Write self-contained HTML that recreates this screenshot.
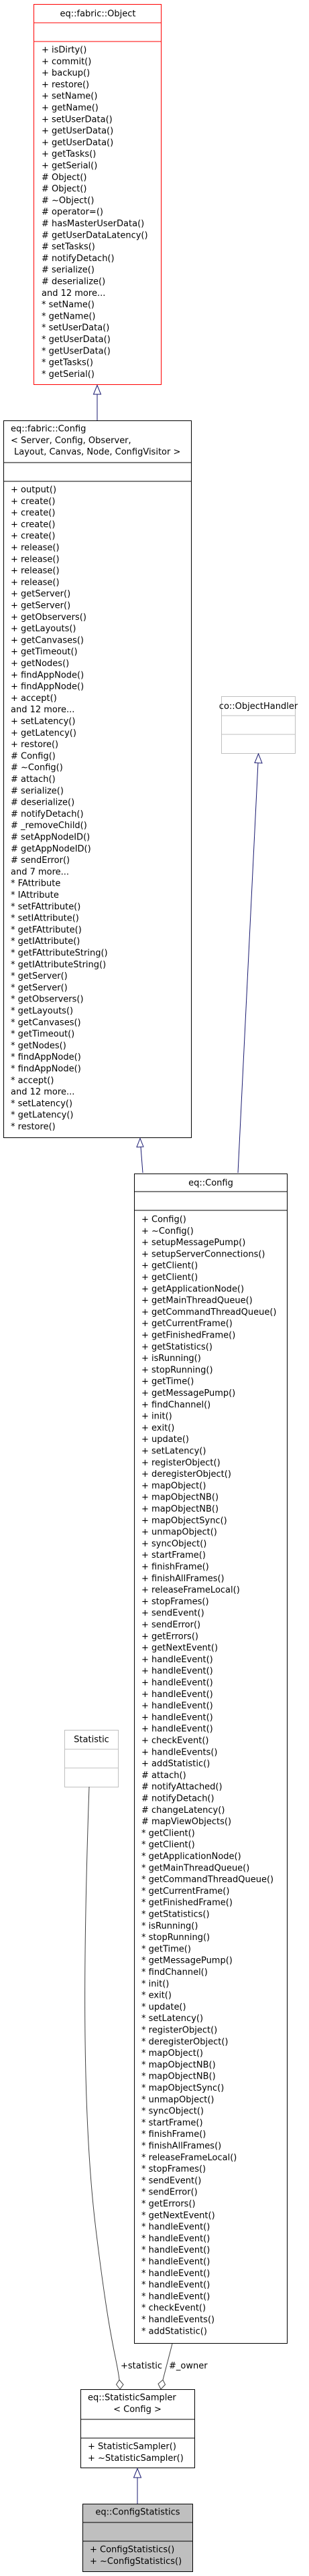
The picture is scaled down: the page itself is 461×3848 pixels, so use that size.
<!DOCTYPE html>
<html><head><meta charset="utf-8"><style>
html,body{margin:0;padding:0;background:#fff;}
svg{display:block;}
text{font-family:"DejaVu Sans","Liberation Sans",sans-serif;font-size:13px;fill:#000;}
</style></head><body>
<svg width="461" height="3848" viewBox="0 0 461 3848" xmlns="http://www.w3.org/2000/svg">
<rect width="461" height="3848" fill="#fff"/>

<!-- eq::fabric::Object -->
<rect x="50.5" y="6.5" width="190" height="568" fill="#fff" stroke="#ff0000" stroke-width="1"/>
<line x1="50.5" y1="34" x2="240.5" y2="34" stroke="#ff0000"/>
<line x1="50.5" y1="62" x2="240.5" y2="62" stroke="#ff0000"/>
<text x="146" y="24.5" text-anchor="middle">eq::fabric::Object</text>
<text y="78.5"><tspan x="62" dy="0">+ isDirty()</tspan><tspan x="62" dy="17.3">+ commit()</tspan><tspan x="62" dy="17.3">+ backup()</tspan><tspan x="62" dy="17.3">+ restore()</tspan><tspan x="62" dy="17.3">+ setName()</tspan><tspan x="62" dy="17.3">+ getName()</tspan><tspan x="62" dy="17.3">+ setUserData()</tspan><tspan x="62" dy="17.3">+ getUserData()</tspan><tspan x="62" dy="17.3">+ getUserData()</tspan><tspan x="62" dy="17.3">+ getTasks()</tspan><tspan x="62" dy="17.3">+ getSerial()</tspan><tspan x="62" dy="17.3"># Object()</tspan><tspan x="62" dy="17.3"># Object()</tspan><tspan x="62" dy="17.3"># ~Object()</tspan><tspan x="62" dy="17.3"># operator=()</tspan><tspan x="62" dy="17.3"># hasMasterUserData()</tspan><tspan x="62" dy="17.3"># getUserDataLatency()</tspan><tspan x="62" dy="17.3"># setTasks()</tspan><tspan x="62" dy="17.3"># notifyDetach()</tspan><tspan x="62" dy="17.3"># serialize()</tspan><tspan x="62" dy="17.3"># deserialize()</tspan><tspan x="62" dy="17.3">and 12 more...</tspan><tspan x="62" dy="17.3">* setName()</tspan><tspan x="62" dy="17.3">* getName()</tspan><tspan x="62" dy="17.3">* setUserData()</tspan><tspan x="62" dy="17.3">* getUserData()</tspan><tspan x="62" dy="17.3">* getUserData()</tspan><tspan x="62" dy="17.3">* getTasks()</tspan><tspan x="62" dy="17.3">* getSerial()</tspan></text>

<!-- arrow fabric::Config -> Object -->
<line x1="145" y1="628" x2="145" y2="589" stroke="#191970" stroke-width="1"/>
<polygon points="145,575.5 139.5,589 150.5,589" fill="#fff" stroke="#191970" stroke-width="1"/>

<!-- eq::fabric::Config -->
<rect x="5.5" y="628.5" width="280" height="1071" fill="#fff" stroke="#000" stroke-width="1"/>
<line x1="5.5" y1="691" x2="285.5" y2="691" stroke="#000"/>
<line x1="5.5" y1="719" x2="285.5" y2="719" stroke="#000"/>
<text y="644.5"><tspan x="16" dy="0">eq::fabric::Config</tspan><tspan x="16" dy="17.3">&lt; Server, Config, Observer,</tspan><tspan x="21" dy="17.3">Layout, Canvas, Node, ConfigVisitor &gt;</tspan></text>
<text y="735.5"><tspan x="16" dy="0">+ output()</tspan><tspan x="16" dy="17.3">+ create()</tspan><tspan x="16" dy="17.3">+ create()</tspan><tspan x="16" dy="17.3">+ create()</tspan><tspan x="16" dy="17.3">+ create()</tspan><tspan x="16" dy="17.3">+ release()</tspan><tspan x="16" dy="17.3">+ release()</tspan><tspan x="16" dy="17.3">+ release()</tspan><tspan x="16" dy="17.3">+ release()</tspan><tspan x="16" dy="17.3">+ getServer()</tspan><tspan x="16" dy="17.3">+ getServer()</tspan><tspan x="16" dy="17.3">+ getObservers()</tspan><tspan x="16" dy="17.3">+ getLayouts()</tspan><tspan x="16" dy="17.3">+ getCanvases()</tspan><tspan x="16" dy="17.3">+ getTimeout()</tspan><tspan x="16" dy="17.3">+ getNodes()</tspan><tspan x="16" dy="17.3">+ findAppNode()</tspan><tspan x="16" dy="17.3">+ findAppNode()</tspan><tspan x="16" dy="17.3">+ accept()</tspan><tspan x="16" dy="17.3">and 12 more...</tspan><tspan x="16" dy="17.3">+ setLatency()</tspan><tspan x="16" dy="17.3">+ getLatency()</tspan><tspan x="16" dy="17.3">+ restore()</tspan><tspan x="16" dy="17.3"># Config()</tspan><tspan x="16" dy="17.3"># ~Config()</tspan><tspan x="16" dy="17.3"># attach()</tspan><tspan x="16" dy="17.3"># serialize()</tspan><tspan x="16" dy="17.3"># deserialize()</tspan><tspan x="16" dy="17.3"># notifyDetach()</tspan><tspan x="16" dy="17.3"># _removeChild()</tspan><tspan x="16" dy="17.3"># setAppNodeID()</tspan><tspan x="16" dy="17.3"># getAppNodeID()</tspan><tspan x="16" dy="17.3"># sendError()</tspan><tspan x="16" dy="17.3">and 7 more...</tspan><tspan x="16" dy="17.3">* FAttribute</tspan><tspan x="16" dy="17.3">* IAttribute</tspan><tspan x="16" dy="17.3">* setFAttribute()</tspan><tspan x="16" dy="17.3">* setIAttribute()</tspan><tspan x="16" dy="17.3">* getFAttribute()</tspan><tspan x="16" dy="17.3">* getIAttribute()</tspan><tspan x="16" dy="17.3">* getFAttributeString()</tspan><tspan x="16" dy="17.3">* getIAttributeString()</tspan><tspan x="16" dy="17.3">* getServer()</tspan><tspan x="16" dy="17.3">* getServer()</tspan><tspan x="16" dy="17.3">* getObservers()</tspan><tspan x="16" dy="17.3">* getLayouts()</tspan><tspan x="16" dy="17.3">* getCanvases()</tspan><tspan x="16" dy="17.3">* getTimeout()</tspan><tspan x="16" dy="17.3">* getNodes()</tspan><tspan x="16" dy="17.3">* findAppNode()</tspan><tspan x="16" dy="17.3">* findAppNode()</tspan><tspan x="16" dy="17.3">* accept()</tspan><tspan x="16" dy="17.3">and 12 more...</tspan><tspan x="16" dy="17.3">* setLatency()</tspan><tspan x="16" dy="17.3">* getLatency()</tspan><tspan x="16" dy="17.3">* restore()</tspan></text>

<!-- co::ObjectHandler -->
<rect x="330.5" y="1040.5" width="110" height="85" fill="#fff" stroke="#bfbfbf" stroke-width="1"/>
<line x1="330.5" y1="1069" x2="440.5" y2="1069" stroke="#bfbfbf"/>
<line x1="330.5" y1="1097" x2="440.5" y2="1097" stroke="#bfbfbf"/>
<text x="385.5" y="1059" text-anchor="middle">co::ObjectHandler</text>

<!-- arrows to eq::Config -->
<line x1="385" y1="1139" x2="355" y2="1752" stroke="#191970" stroke-width="1"/>
<polygon points="385.5,1126 380,1139.5 391,1140" fill="#fff" stroke="#191970" stroke-width="1"/>
<line x1="213" y1="1752" x2="210" y2="1713" stroke="#191970" stroke-width="1"/>
<polygon points="209,1700.5 204,1713.5 214,1713" fill="#fff" stroke="#191970" stroke-width="1"/>

<!-- eq::Config -->
<rect x="200.5" y="1753.5" width="228" height="1747" fill="#fff" stroke="#000" stroke-width="1"/>
<line x1="200.5" y1="1780" x2="428.5" y2="1780" stroke="#000"/>
<line x1="200.5" y1="1808" x2="428.5" y2="1808" stroke="#000"/>
<text x="314.5" y="1771" text-anchor="middle">eq::Config</text>
<text y="1825.5"><tspan x="211" dy="0">+ Config()</tspan><tspan x="211" dy="17.3">+ ~Config()</tspan><tspan x="211" dy="17.3">+ setupMessagePump()</tspan><tspan x="211" dy="17.3">+ setupServerConnections()</tspan><tspan x="211" dy="17.3">+ getClient()</tspan><tspan x="211" dy="17.3">+ getClient()</tspan><tspan x="211" dy="17.3">+ getApplicationNode()</tspan><tspan x="211" dy="17.3">+ getMainThreadQueue()</tspan><tspan x="211" dy="17.3">+ getCommandThreadQueue()</tspan><tspan x="211" dy="17.3">+ getCurrentFrame()</tspan><tspan x="211" dy="17.3">+ getFinishedFrame()</tspan><tspan x="211" dy="17.3">+ getStatistics()</tspan><tspan x="211" dy="17.3">+ isRunning()</tspan><tspan x="211" dy="17.3">+ stopRunning()</tspan><tspan x="211" dy="17.3">+ getTime()</tspan><tspan x="211" dy="17.3">+ getMessagePump()</tspan><tspan x="211" dy="17.3">+ findChannel()</tspan><tspan x="211" dy="17.3">+ init()</tspan><tspan x="211" dy="17.3">+ exit()</tspan><tspan x="211" dy="17.3">+ update()</tspan><tspan x="211" dy="17.3">+ setLatency()</tspan><tspan x="211" dy="17.3">+ registerObject()</tspan><tspan x="211" dy="17.3">+ deregisterObject()</tspan><tspan x="211" dy="17.3">+ mapObject()</tspan><tspan x="211" dy="17.3">+ mapObjectNB()</tspan><tspan x="211" dy="17.3">+ mapObjectNB()</tspan><tspan x="211" dy="17.3">+ mapObjectSync()</tspan><tspan x="211" dy="17.3">+ unmapObject()</tspan><tspan x="211" dy="17.3">+ syncObject()</tspan><tspan x="211" dy="17.3">+ startFrame()</tspan><tspan x="211" dy="17.3">+ finishFrame()</tspan><tspan x="211" dy="17.3">+ finishAllFrames()</tspan><tspan x="211" dy="17.3">+ releaseFrameLocal()</tspan><tspan x="211" dy="17.3">+ stopFrames()</tspan><tspan x="211" dy="17.3">+ sendEvent()</tspan><tspan x="211" dy="17.3">+ sendError()</tspan><tspan x="211" dy="17.3">+ getErrors()</tspan><tspan x="211" dy="17.3">+ getNextEvent()</tspan><tspan x="211" dy="17.3">+ handleEvent()</tspan><tspan x="211" dy="17.3">+ handleEvent()</tspan><tspan x="211" dy="17.3">+ handleEvent()</tspan><tspan x="211" dy="17.3">+ handleEvent()</tspan><tspan x="211" dy="17.3">+ handleEvent()</tspan><tspan x="211" dy="17.3">+ handleEvent()</tspan><tspan x="211" dy="17.3">+ handleEvent()</tspan><tspan x="211" dy="17.3">+ checkEvent()</tspan><tspan x="211" dy="17.3">+ handleEvents()</tspan><tspan x="211" dy="17.3">+ addStatistic()</tspan><tspan x="211" dy="17.3"># attach()</tspan><tspan x="211" dy="17.3"># notifyAttached()</tspan><tspan x="211" dy="17.3"># notifyDetach()</tspan><tspan x="211" dy="17.3"># changeLatency()</tspan><tspan x="211" dy="17.3"># mapViewObjects()</tspan><tspan x="211" dy="17.3">* getClient()</tspan><tspan x="211" dy="17.3">* getClient()</tspan><tspan x="211" dy="17.3">* getApplicationNode()</tspan><tspan x="211" dy="17.3">* getMainThreadQueue()</tspan><tspan x="211" dy="17.3">* getCommandThreadQueue()</tspan><tspan x="211" dy="17.3">* getCurrentFrame()</tspan><tspan x="211" dy="17.3">* getFinishedFrame()</tspan><tspan x="211" dy="17.3">* getStatistics()</tspan><tspan x="211" dy="17.3">* isRunning()</tspan><tspan x="211" dy="17.3">* stopRunning()</tspan><tspan x="211" dy="17.3">* getTime()</tspan><tspan x="211" dy="17.3">* getMessagePump()</tspan><tspan x="211" dy="17.3">* findChannel()</tspan><tspan x="211" dy="17.3">* init()</tspan><tspan x="211" dy="17.3">* exit()</tspan><tspan x="211" dy="17.3">* update()</tspan><tspan x="211" dy="17.3">* setLatency()</tspan><tspan x="211" dy="17.3">* registerObject()</tspan><tspan x="211" dy="17.3">* deregisterObject()</tspan><tspan x="211" dy="17.3">* mapObject()</tspan><tspan x="211" dy="17.3">* mapObjectNB()</tspan><tspan x="211" dy="17.3">* mapObjectNB()</tspan><tspan x="211" dy="17.3">* mapObjectSync()</tspan><tspan x="211" dy="17.3">* unmapObject()</tspan><tspan x="211" dy="17.3">* syncObject()</tspan><tspan x="211" dy="17.3">* startFrame()</tspan><tspan x="211" dy="17.3">* finishFrame()</tspan><tspan x="211" dy="17.3">* finishAllFrames()</tspan><tspan x="211" dy="17.3">* releaseFrameLocal()</tspan><tspan x="211" dy="17.3">* stopFrames()</tspan><tspan x="211" dy="17.3">* sendEvent()</tspan><tspan x="211" dy="17.3">* sendError()</tspan><tspan x="211" dy="17.3">* getErrors()</tspan><tspan x="211" dy="17.3">* getNextEvent()</tspan><tspan x="211" dy="17.3">* handleEvent()</tspan><tspan x="211" dy="17.3">* handleEvent()</tspan><tspan x="211" dy="17.3">* handleEvent()</tspan><tspan x="211" dy="17.3">* handleEvent()</tspan><tspan x="211" dy="17.3">* handleEvent()</tspan><tspan x="211" dy="17.3">* handleEvent()</tspan><tspan x="211" dy="17.3">* handleEvent()</tspan><tspan x="211" dy="17.3">* checkEvent()</tspan><tspan x="211" dy="17.3">* handleEvents()</tspan><tspan x="211" dy="17.3">* addStatistic()</tspan></text>

<!-- Statistic -->
<rect x="96.5" y="2584.5" width="80" height="85" fill="#fff" stroke="#bfbfbf" stroke-width="1"/>
<line x1="96.5" y1="2613" x2="176.5" y2="2613" stroke="#bfbfbf"/>
<line x1="96.5" y1="2641" x2="176.5" y2="2641" stroke="#bfbfbf"/>
<text x="136.5" y="2602.5" text-anchor="middle">Statistic</text>

<!-- usage connectors -->
<path d="M133,2669 C125,2900 121,3150 143,3330 S 174,3520 178,3555" fill="none" stroke="#404040" stroke-width="1"/>
<polygon points="179,3569 173.5,3562 178,3555 184,3562" fill="#fff" stroke="#404040" stroke-width="1"/>
<path d="M257,3501 L243,3555" fill="none" stroke="#404040" stroke-width="1"/>
<polygon points="240,3569 236,3561 243,3555 246.5,3562" fill="#fff" stroke="#404040" stroke-width="1"/>
<text x="180" y="3538">+statistic</text>
<text x="252" y="3538">#_owner</text>

<!-- StatisticSampler -->
<rect x="120.5" y="3569.5" width="170" height="117" fill="#fff" stroke="#000" stroke-width="1"/>
<line x1="120.5" y1="3614" x2="290.5" y2="3614" stroke="#000"/>
<line x1="120.5" y1="3642" x2="290.5" y2="3642" stroke="#000"/>
<text x="131" y="3585.5">eq::StatisticSampler</text>
<text x="205" y="3603" text-anchor="middle">&lt; Config &gt;</text>
<text x="131" y="3658.5">+ StatisticSampler()</text>
<text x="131" y="3676">+ ~StatisticSampler()</text>

<!-- arrow ConfigStatistics -> Sampler -->
<line x1="205" y1="3740" x2="205" y2="3701" stroke="#191970" stroke-width="1"/>
<polygon points="205,3687.5 199.5,3701 210.5,3701" fill="#fff" stroke="#191970" stroke-width="1"/>

<!-- eq::ConfigStatistics -->
<rect x="123.5" y="3740.5" width="164" height="101" fill="#bfbfbf" stroke="#000" stroke-width="1"/>
<line x1="123.5" y1="3768" x2="287.5" y2="3768" stroke="#000"/>
<line x1="123.5" y1="3796" x2="287.5" y2="3796" stroke="#000"/>
<text x="205.5" y="3756.5" text-anchor="middle">eq::ConfigStatistics</text>
<text x="134" y="3812.5">+ ConfigStatistics()</text>
<text x="134" y="3830">+ ~ConfigStatistics()</text>
</svg>
</body></html>
